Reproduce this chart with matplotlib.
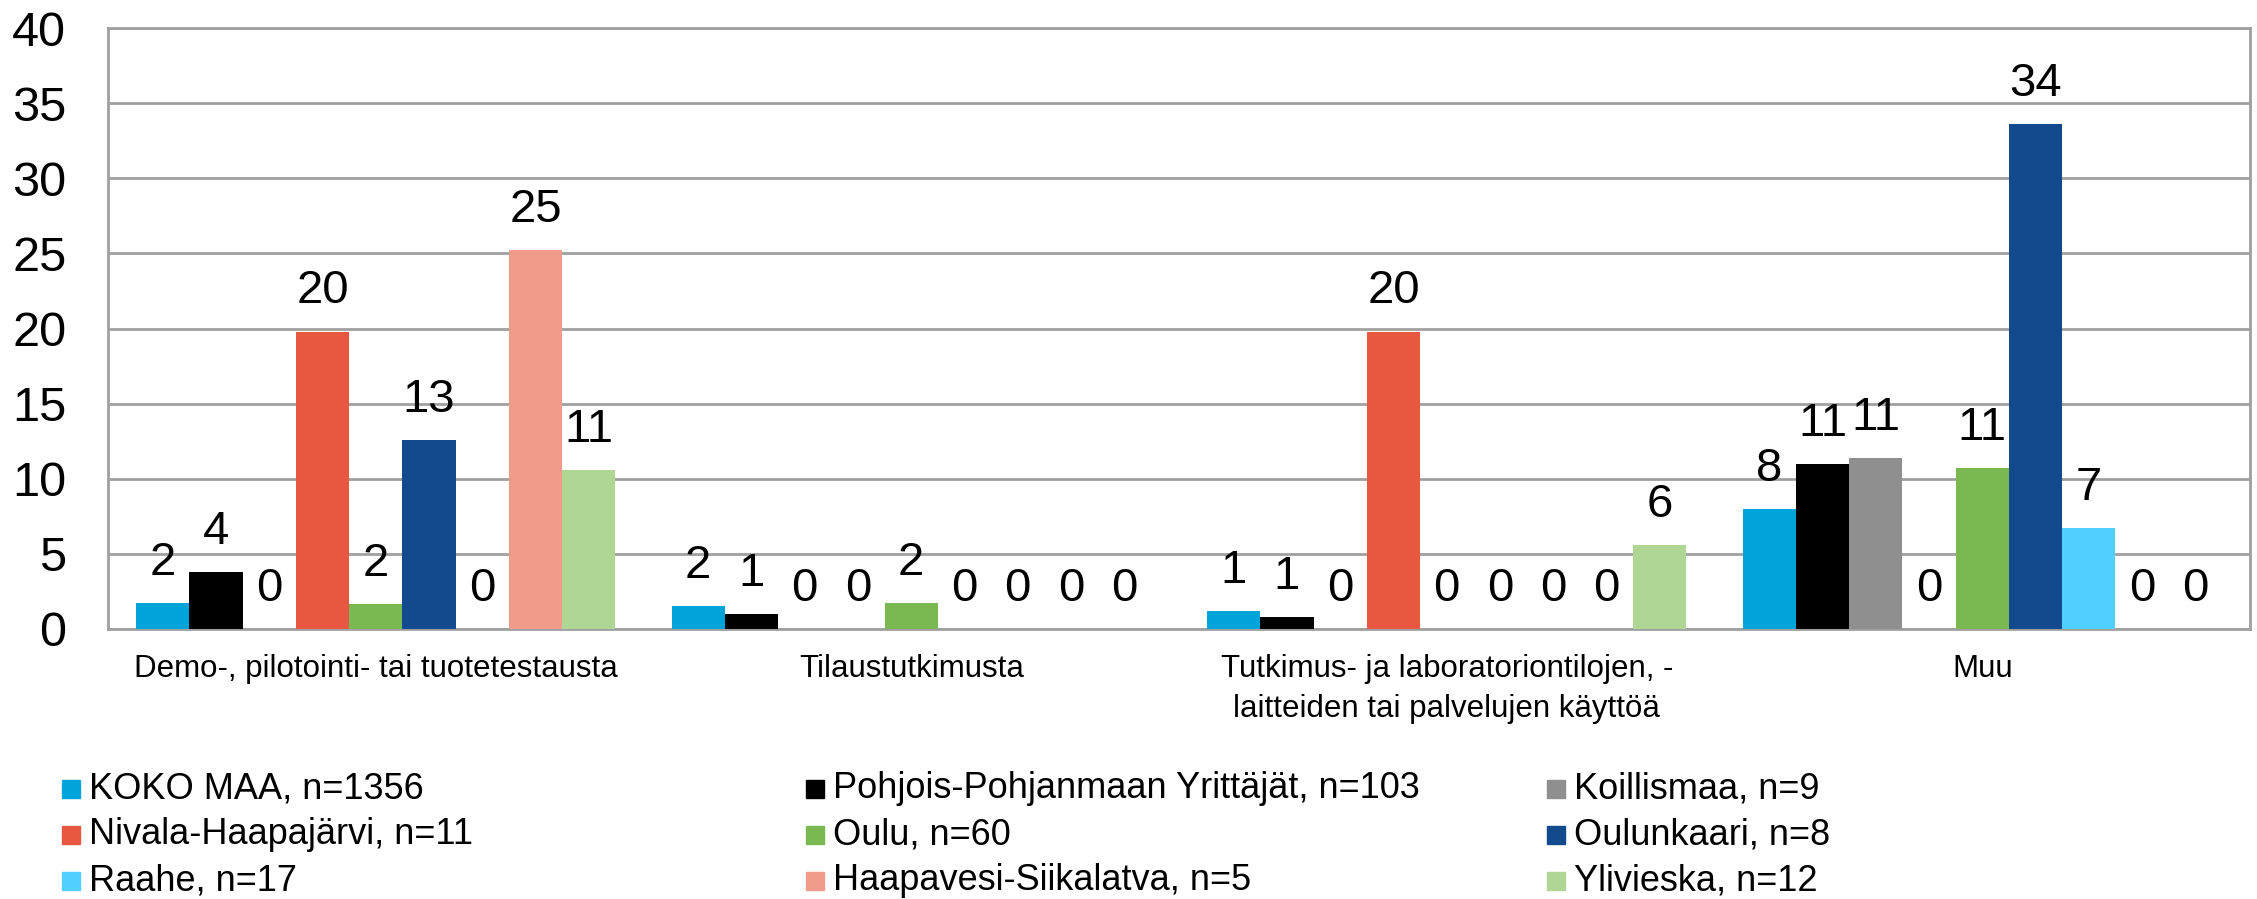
import matplotlib
matplotlib.use("Agg")
import matplotlib.pyplot as plt
import numpy as np
from matplotlib.patches import Rectangle

plt.rcParams['font.family'] = ['Liberation Sans', 'DejaVu Sans']

categories = ["Demo-, pilotointi- tai tuotetestausta",
              "Tilaustutkimusta",
              "Tutkimus- ja laboratoriontilojen, -\nlaitteiden tai palvelujen käyttöä",
              "Muu"]
series_names = ["KOKO MAA, n=1356", "Pohjois-Pohjanmaan Yrittäjät, n=103", "Koillismaa, n=9",
                "Nivala-Haapajärvi, n=11", "Oulu, n=60", "Oulunkaari, n=8",
                "Raahe, n=17", "Haapavesi-Siikalatva, n=5", "Ylivieska, n=12"]
koko_maa = [1.7, 1.55, 1.2, 8.0]
pp_yrittajat = [3.8, 1.0, 0.8, 11.0]
koillismaa = [0, 0, 0, 11.4]
nivala = [19.8, 0, 19.8, 0]
oulu = [1.65, 1.7, 0, 10.7]
oulunkaari = [12.6, 0, 0, 33.6]
raahe = [0, 0, 0, 6.7]
haapavesi = [25.2, 0, 0, 0]
ylivieska = [10.6, 0, 5.6, 0]
series_values = [koko_maa, pp_yrittajat, koillismaa, nivala, oulu, oulunkaari,
                 raahe, haapavesi, ylivieska]
colors = ["#00A3DA", "#000000", "#8F8F8F", "#E8573F", "#7AB951", "#134A8E",
          "#4FD0FF", "#F19B8B", "#AFD695"]
yticks = [0, 5, 10, 15, 20, 25, 30, 35, 40]

W, H = 2257, 899
fig = plt.figure(figsize=(W / 100, H / 100), dpi=100)
ax = fig.add_axes([108 / W, 1 - 629 / H, (2250 - 108) / W, (629 - 28) / H])

x = np.arange(len(categories))
n = len(series_values)
group = 0.895
bw = group / n
for i, (vals, c) in enumerate(zip(series_values, colors)):
    pos = x - group / 2 + bw * (i + 0.5)
    bars = ax.bar(pos, vals, width=bw, color=c, zorder=3, label=series_names[i])
    ax.bar_label(bars, labels=[f"{v:.0f}" for v in vals], padding=13, fontsize=34)

ax.set_xlim(-0.5, len(categories) - 0.5)
ax.set_ylim(0, 40)
ax.set_yticks(yticks)
ax.set_yticklabels([str(t) for t in yticks], fontsize=35)
ax.set_xticks(x)
ax.set_xticklabels(categories, fontsize=22.5, linespacing=1.45)
ax.tick_params(axis='y', length=0, pad=30)
ax.tick_params(axis='x', length=0, pad=18)
ax.grid(axis='y', color='#A0A0A0', linewidth=2, zorder=0)
for s in ax.spines.values():
    s.set_color('#A0A0A0')
    s.set_linewidth(2)

# legend (row-major, 3 columns)
col_x = [62, 806, 1547]
row_y = [789, 835, 881]
for i, name in enumerate(series_names):
    r, c = divmod(i, 3)
    fig.patches.append(Rectangle((col_x[c] / W, 1 - (row_y[r] + 9) / H), 18 / W, 18 / H,
                                 transform=fig.transFigure, color=colors[i]))
    fig.text((col_x[c] + 27) / W, 1 - row_y[r] / H, name, fontsize=26,
             va='center', ha='left')

fig.savefig("out.png", dpi=100)
